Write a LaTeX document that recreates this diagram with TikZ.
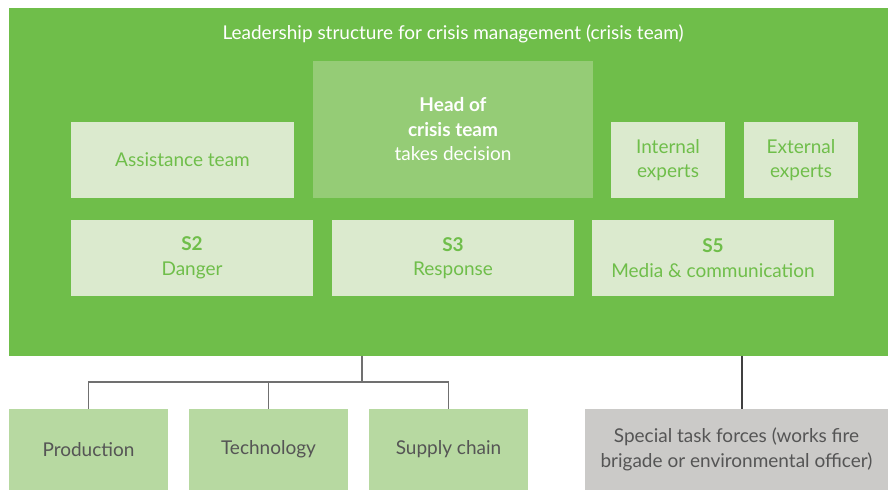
\documentclass[tikz,border=0pt]{standalone}
\usepackage{fontspec}
\setmainfont{Lato}
\definecolor{bigg}{HTML}{6FBE4A}
\definecolor{lightg}{HTML}{DBEACE}
\definecolor{headg}{HTML}{95CC76}
\definecolor{botg}{HTML}{B7D9A1}
\definecolor{grayb}{HTML}{CBCAC8}
\definecolor{txtgray}{HTML}{555555}
\definecolor{linegray}{HTML}{707070}
\begin{document}
\begin{tikzpicture}[x=1pt,y=-1pt,
  box/.style={inner sep=0pt, align=center, font=\fontsize{19}{24.5}\selectfont},
  inbox/.style={box, fill=lightg, text=bigg, minimum height=76pt},
  lowbox/.style={box, fill=botg, text=txtgray, minimum width=159pt, minimum height=81pt},
  conn/.style={draw=linegray, line width=1.2pt}]
\useasboundingbox (0,0) rectangle (888,490);
\fill[white] (0,0) rectangle (888,490);
\node[inner sep=0pt, fill=bigg, minimum width=879pt, minimum height=348pt] (crisis) at (448.5,182) {};
\node[inner sep=0pt, anchor=base, text=white, font=\fontsize{19}{22}\selectfont] (title) at (453,39) {Leadership structure for crisis management (crisis team)};
\node[box, fill=headg, text=white, minimum width=280pt, minimum height=137pt] (head) at (453,129.5) {\textbf{Head of}\\\textbf{crisis team}\\takes decision};
\node[inbox, minimum width=223pt] (assist) at (182.5,160) {Assistance team};
\node[inbox, minimum width=114pt] (internal) at (668,160) {Internal\\experts};
\node[inbox, minimum width=114pt] (external) at (801,160) {External\\experts};
\node[inbox, minimum width=242pt] (s2) at (192,258) {\textbf{S2}\\Danger};
\node[inbox, minimum width=242pt] (s3) at (453,258) {\textbf{S3}\\Response};
\node[inbox, minimum width=242pt] (s5) at (713,258) {\textbf{S5}\\Media \& communication};
\node[lowbox] (prod) at (88.5,449.5) {Production};
\node[lowbox] (tech) at (268.5,449.5) {Technology};
\node[lowbox] (supply) at (448.5,449.5) {Supply chain};
\node[box, fill=grayb, text=txtgray, minimum width=303pt, minimum height=81pt] (special) at (736.5,449.5) {Special task forces (works fire\\brigade or environmental officer)};
\coordinate (j) at (362,382);
\coordinate (sp) at (742,409);
\draw[conn] (crisis.south -| j) -- (j);
\draw[conn] (prod.north) |- (supply.north |- j) -- (supply.north);
\draw[conn] (tech.north) -- (tech.north |- j);
\draw[draw=black!75, line width=1.2pt] (crisis.south -| sp) -- (sp);
\end{tikzpicture}
\end{document}
